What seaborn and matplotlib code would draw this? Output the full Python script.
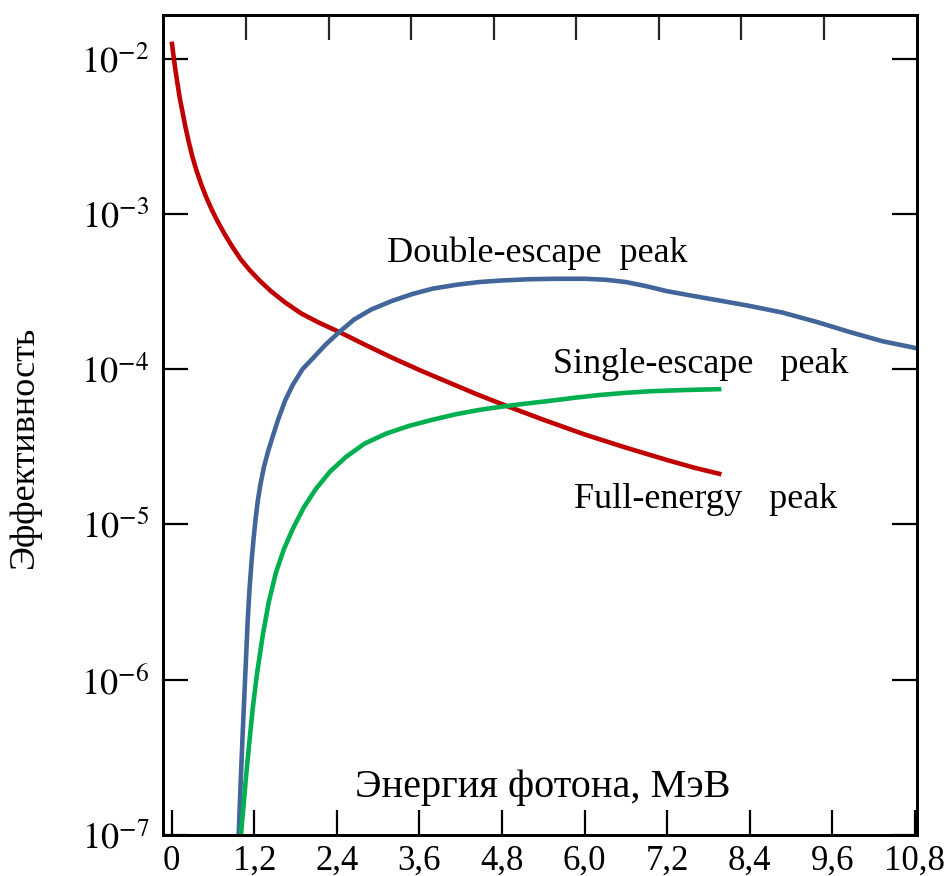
import numpy as np
import pandas as pd
import matplotlib
matplotlib.use("Agg")
import matplotlib.pyplot as plt
import seaborn as sns

# Photon energy (MeV) and log10 of detector efficiency for each peak type
full_energy_x = [0.0, 0.02, 0.05, 0.08, 0.12, 0.16, 0.20, 0.25, 0.30, 0.36,
                 0.43, 0.50, 0.58, 0.67, 0.77, 0.88, 1.00, 1.13, 1.28, 1.45,
                 1.65, 1.88, 2.14, 2.436, 2.8, 3.2, 3.6, 4.0, 4.4, 4.8, 5.4,
                 6.0, 6.6, 7.2, 7.6, 7.99]
full_energy_log = [-1.889, -1.96, -2.06, -2.15, -2.26, -2.35, -2.44, -2.54,
                   -2.63, -2.72, -2.81, -2.89, -2.97, -3.05, -3.13, -3.21,
                   -3.29, -3.36, -3.43, -3.50, -3.57, -3.64, -3.70, -3.76,
                   -3.84, -3.925, -4.005, -4.08, -4.155, -4.225, -4.325,
                   -4.42, -4.505, -4.585, -4.635, -4.677]

double_escape_x = [0.973, 0.99, 1.006, 1.03, 1.055, 1.08, 1.103, 1.13, 1.16,
                   1.19, 1.22, 1.25, 1.29, 1.34, 1.40, 1.47, 1.55, 1.65,
                   1.76, 1.90, 2.05, 2.24, 2.436, 2.65, 2.90, 3.2, 3.5, 3.8,
                   4.15, 4.473, 4.8, 5.2, 5.6, 6.0, 6.3, 6.6, 6.9, 7.2,
                   7.673, 8.1, 8.4, 8.88, 9.375, 9.855, 10.335, 10.757, 10.83]
double_escape_log = [-7.0, -6.80, -6.62, -6.36, -6.11, -5.86, -5.63, -5.42,
                     -5.24, -5.09, -4.96, -4.85, -4.74, -4.63, -4.53, -4.43,
                     -4.32, -4.20, -4.10, -4.00, -3.93, -3.84, -3.76, -3.68,
                     -3.615, -3.56, -3.515, -3.48, -3.455, -3.438, -3.428,
                     -3.42, -3.417, -3.417, -3.423, -3.438, -3.465, -3.497,
                     -3.535, -3.568, -3.592, -3.635, -3.695, -3.76, -3.82,
                     -3.858, -3.866]

single_escape_x = [1.006, 1.04, 1.079, 1.12, 1.176, 1.24, 1.321, 1.41,
                   1.515, 1.63, 1.758, 1.92, 2.097, 2.30, 2.533, 2.80, 3.115,
                   3.45, 3.794, 4.13, 4.473, 4.764, 5.1, 5.491, 5.85, 6.218,
                   6.6, 6.945, 7.45, 7.99]
single_escape_log = [-7.0, -6.83, -6.63, -6.44, -6.19, -5.96, -5.72, -5.50,
                     -5.31, -5.16, -5.03, -4.89, -4.77, -4.66, -4.565, -4.48,
                     -4.415, -4.365, -4.325, -4.29, -4.262, -4.243, -4.224,
                     -4.204, -4.184, -4.166, -4.152, -4.142, -4.134, -4.128]

x_ticks = [0, 1.2, 2.4, 3.6, 4.8, 6.0, 7.2, 8.4, 9.6, 10.8]
x_tick_labels = ["0", "1,2", "2,4", "3,6", "4,8", "6,0", "7,2", "8,4", "9,6", "10,8"]
y_ticks = [1e-7, 1e-6, 1e-5, 1e-4, 1e-3, 1e-2]
y_tick_labels = [r"$10^{-7}$", r"$10^{-6}$", r"$10^{-5}$", r"$10^{-4}$",
                 r"$10^{-3}$", r"$10^{-2}$"]

df = pd.concat([
    pd.DataFrame({"E": full_energy_x, "eff": np.power(10.0, full_energy_log),
                  "peak": "full"}),
    pd.DataFrame({"E": double_escape_x, "eff": np.power(10.0, double_escape_log),
                  "peak": "double"}),
    pd.DataFrame({"E": single_escape_x, "eff": np.power(10.0, single_escape_log),
                  "peak": "single"}),
])

sns.set_theme(style="white")
plt.rcParams["font.family"] = ["Liberation Serif", "DejaVu Serif"]
plt.rcParams["mathtext.fontset"] = "stix"

palette = {"full": "#C00000", "double": "#42669A", "single": "#00B050"}

fig = plt.figure(figsize=(9.52, 8.76), dpi=100)
ax = fig.add_axes([0.171, 0.047, 0.792, 0.936])

sns.lineplot(data=df, x="E", y="eff", hue="peak", palette=palette,
             estimator=None, sort=False, linewidth=3.3, legend=False, ax=ax,
             solid_capstyle="butt", solid_joinstyle="round")

ax.set_yscale("log")
ax.set_xlim(-0.13, 10.83)
ax.set_ylim(1e-7, 1.92e-2)

ax.set_xticks(x_ticks)
ax.set_xticklabels(x_tick_labels)
ax.set_yticks(y_ticks)
ax.set_yticklabels(y_tick_labels)
ax.yaxis.set_minor_locator(matplotlib.ticker.NullLocator())
ax.tick_params(axis="both", direction="in", length=18, width=1.6,
               colors="black")
ax.tick_params(axis="x", labelsize=25, pad=7, bottom=True, top=False)
ax.tick_params(axis="y", labelsize=26, pad=10, right=True, left=True)

# top edge ticks
top = ax.twiny()
top.set_xlim(ax.get_xlim())
top.set_xticks([t - 0.12 for t in x_ticks[1:-1]])
top.set_xticklabels([])
top.tick_params(axis="x", direction="in", length=18, width=1.6, top=True)

for a in (ax, top):
    for s in a.spines.values():
        s.set_color("black")
        s.set_linewidth(2.0)

ax.set_xlabel("")
ax.set_ylabel("")

ax.text(0.298, 0.699, "Double-escape  peak", transform=ax.transAxes,
        fontsize=26, ha="left", va="baseline", color="black")
ax.text(0.517, 0.563, "Single-escape   peak", transform=ax.transAxes,
        fontsize=26, ha="left", va="baseline", color="black")
ax.text(0.546, 0.399, "Full-energy   peak", transform=ax.transAxes,
        fontsize=26, ha="left", va="baseline", color="black")
ax.text(0.255, 0.046, "Энергия фотона, МэВ", transform=ax.transAxes,
        fontsize=29, ha="left", va="baseline", color="black")
fig.text(0.026, 0.49, "Эффективность", rotation=90, fontsize=26,
         ha="center", va="center", color="black")

fig.savefig("out.png", dpi=100)
